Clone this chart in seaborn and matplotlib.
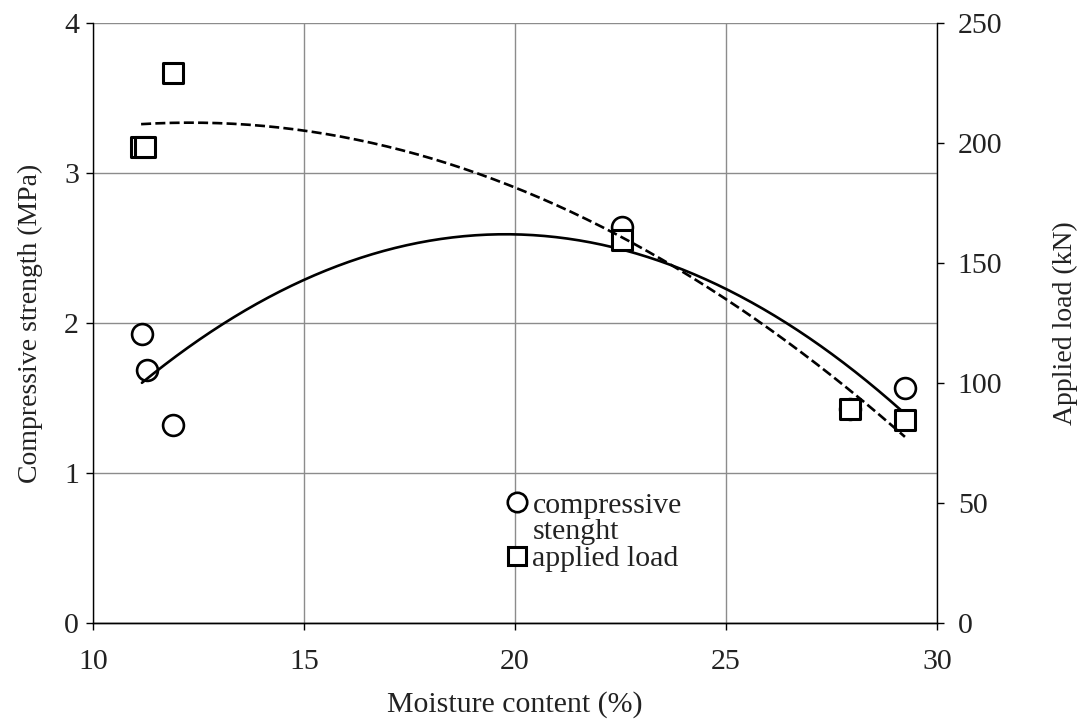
import numpy as np
import pandas as pd
import matplotlib
matplotlib.use("Agg")
import matplotlib.pyplot as plt
from matplotlib.lines import Line2D
import seaborn as sns

# ---- data ----
moisture_cs = [11.16, 11.28, 11.90, 22.54, 27.94, 29.24]
strength = [1.93, 1.69, 1.32, 2.64, 1.43, 1.57]
moisture_load = [11.14, 11.23, 11.90, 22.54, 27.94, 29.24]
load = [198.5, 198.5, 229.0, 159.5, 89.2, 84.6]

x_ticks = [10, 15, 20, 25, 30]
y_left_ticks = [0, 1, 2, 3, 4]
y_right_ticks = [0, 50, 100, 150, 200, 250]

sns.set_theme(style="white")
plt.rcParams['font.family'] = ['Liberation Serif', 'DejaVu Serif']
FS = 21.5      # horizontal text
FSV = 20       # rotated axis titles

fig = plt.figure(figsize=(10.87, 7.27), dpi=100)
ax = fig.add_axes([93 / 1087, 1 - 623 / 727, (937 - 93) / 1087, 600 / 727])
ax2 = ax.twinx()

df_cs = pd.DataFrame({"x": moisture_cs, "y": strength})
df_ld = pd.DataFrame({"x": moisture_load, "y": load})

# polynomial (order 2) trendlines, as in the original spreadsheet chart
c1 = np.polyfit(df_cs["x"], df_cs["y"], 2)
xs1 = np.linspace(df_cs["x"].min(), df_cs["x"].max(), 200)
trend_cs = pd.DataFrame({"x": xs1, "y": np.polyval(c1, xs1)})
c2 = np.polyfit(df_ld["x"], df_ld["y"], 2)
xs2 = np.linspace(df_ld["x"].min(), df_ld["x"].max(), 200)
trend_ld = pd.DataFrame({"x": xs2, "y": np.polyval(c2, xs2)})

sns.scatterplot(data=df_cs, x="x", y="y", ax=ax, marker="o", s=225,
                facecolor="white", edgecolor="black", linewidth=1.9, zorder=3)
sns.lineplot(data=trend_cs, x="x", y="y", ax=ax, color="black", lw=1.9, zorder=4)

sns.scatterplot(data=df_ld, x="x", y="y", ax=ax2, marker="s", s=200,
                facecolor="white", edgecolor="black", linewidth=2.2, zorder=3)
sns.lineplot(data=trend_ld, x="x", y="y", ax=ax2, color="black", lw=1.9,
             linestyle=(0, (3.8, 1.6)), zorder=4)

ax.set_xlim(10, 30)
ax.set_ylim(0, 4)
ax2.set_ylim(0, 250)
ax.set_xticks(x_ticks)
ax.set_yticks(y_left_ticks)
ax2.set_yticks(y_right_ticks)
ax.set_xticklabels([str(v) for v in x_ticks], fontsize=FS)
ax.set_yticklabels([str(v) for v in y_left_ticks], fontsize=FS)
ax2.set_yticklabels([str(v) for v in y_right_ticks], fontsize=FS)

ax.grid(True, color="#8c8c8c", lw=1.0)
ax.set_axisbelow(True)
ax2.grid(False)

for a in (ax, ax2):
    for s in a.spines.values():
        s.set_color("black")
        s.set_linewidth(1.0)
    a.spines["top"].set_visible(False)
ax2.spines["left"].set_visible(False)
ax.spines["right"].set_visible(False)

ax.tick_params(axis="both", direction="out", length=5, width=1.0, color="black",
               pad=5, left=True, bottom=True, labelcolor="#222222")
ax.tick_params(axis="x", pad=14)
ax2.tick_params(axis="y", direction="out", length=5, width=1.0, color="black",
                pad=10, right=True, labelcolor="#222222")

ax.set_xlabel("Moisture content (%)", fontsize=FS, color="#222222", labelpad=11)
ax.set_ylabel("Compressive strength (MPa)", fontsize=FSV, color="#222222", labelpad=15)
ax2.set_ylabel("Applied load (kN)", fontsize=FSV, color="#222222", labelpad=36)

handles = [
    Line2D([], [], linestyle="none", marker="o", markersize=14,
           markerfacecolor="white", markeredgecolor="black", markeredgewidth=1.9),
    Line2D([], [], linestyle="none"),
    Line2D([], [], linestyle="none", marker="s", markersize=13.5,
           markerfacecolor="white", markeredgecolor="black", markeredgewidth=2.2),
]
labels = ["compressive", "stenght", "applied load"]
leg = ax2.legend(handles, labels, loc="center left",
                 bbox_to_anchor=((507 - 93) / 844, (623 - 532) / 600),
                 frameon=False, fontsize=FS, borderpad=0, handlelength=0.7,
                 handletextpad=0.15, labelspacing=0.0, borderaxespad=0)
for t in leg.get_texts():
    t.set_color("#222222")

fig.savefig("out.png", dpi=100, facecolor="white")
